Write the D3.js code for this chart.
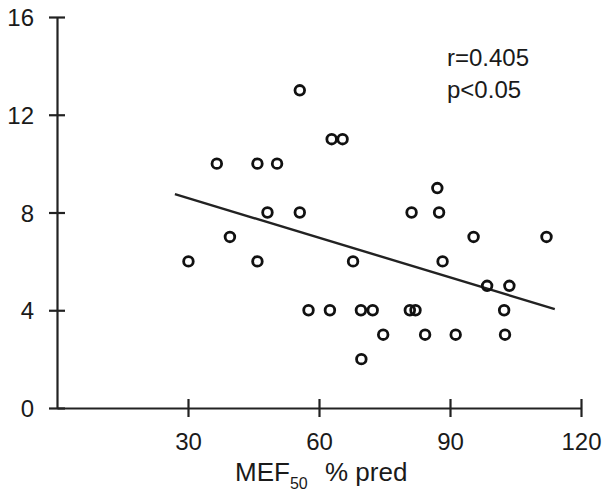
<!DOCTYPE html>
<html>
<head>
<meta charset="utf-8">
<script src="https://cdn.jsdelivr.net/npm/d3@7"></script>
<style>
  html, body { margin: 0; padding: 0; background: #fff; }
  svg { display: block; font-family: "Liberation Sans", Arial, Helvetica, sans-serif; }
  .axis path, .axis line { stroke: #222; stroke-width: 2.2px; }
  .axis text { fill: #1a1a1a; font-size: 24px; }
</style>
</head>
<body>
<svg id="chart" width="605" height="493"></svg>
<script>
// MEF50 % pred (x) against y value
const mefPred = [30.1, 36.6, 39.6, 45.9, 45.9, 48.2, 50.4, 55.6, 55.6, 57.6, 62.5, 62.9, 65.4, 67.8, 69.6, 69.7,
                 72.3, 74.7, 80.8, 81.2, 82.1, 84.3, 87.1, 87.5, 88.3, 91.3, 95.4, 98.5, 102.4, 102.6, 103.6, 112.1];
const yValues = [6, 10, 7, 10, 6, 8, 10, 13, 8, 4, 4, 11, 11, 6, 4, 2,
                 4, 3, 4, 8, 4, 3, 9, 8, 6, 3, 7, 5, 4, 3, 5, 7];

// regression line end points
const fitX = [27, 114];
const fitY = [8.75, 4.05];

const xTicks = [30, 60, 90, 120];
const yTicks = [0, 4, 8, 12, 16];
const statLines = ["r=0.405", "p<0.05"];

const svg = d3.select('#chart');

const x = d3.scaleLinear().domain([0, 120]).range([57, 581]);
const y = d3.scaleLinear().domain([0, 16]).range([408, 17]);

// x axis, ticks cross the line
const gx = svg.append('g')
    .attr('class', 'axis')
    .attr('transform', `translate(0,${y(0)})`)
    .call(d3.axisBottom(x).tickValues(xTicks).tickSizeOuter(0).tickSize(0).tickPadding(0));
gx.selectAll('.tick line').attr('y1', -9).attr('y2', 9);
gx.selectAll('.tick text').attr('dy', null).attr('y', 42);

// y axis
const gy = svg.append('g')
    .attr('class', 'axis')
    .attr('transform', `translate(${x(0)},0)`)
    .call(d3.axisLeft(y).tickValues(yTicks).tickSizeOuter(0).tickSize(0));
gy.selectAll('.tick line').attr('x1', -8).attr('x2', 8);
gy.selectAll('.tick text').attr('x', -23).attr('dy', '0.36em');

// regression line
svg.append('line')
    .attr('x1', x(fitX[0])).attr('y1', y(fitY[0]))
    .attr('x2', x(fitX[1])).attr('y2', y(fitY[1]))
    .attr('stroke', '#222')
    .attr('stroke-width', 2.4);

// open circles
svg.append('g')
    .selectAll('circle')
    .data(mefPred.map((d, i) => [d, yValues[i]]))
    .enter()
    .append('circle')
    .attr('cx', d => x(d[0]))
    .attr('cy', d => y(d[1]))
    .attr('r', 4.8)
    .attr('fill', 'none')
    .attr('stroke', '#111')
    .attr('stroke-width', 2.8);

// r / p annotation
svg.append('g')
    .selectAll('text')
    .data(statLines)
    .enter()
    .append('text')
    .attr('x', 447)
    .attr('y', (d, i) => 66 + i * 32)
    .attr('font-size', 24)
    .attr('fill', '#1a1a1a')
    .text(d => d);

// x title with subscript
const title = svg.append('text')
    .attr('x', 235)
    .attr('y', 481)
    .attr('font-size', 26)
    .attr('fill', '#1a1a1a');
title.append('tspan').text('MEF');
title.append('tspan').attr('font-size', 16).attr('dy', 8).text('50');
title.append('tspan').attr('x', 325).attr('dy', -8).text('% pred');
</script>
</body>
</html>
